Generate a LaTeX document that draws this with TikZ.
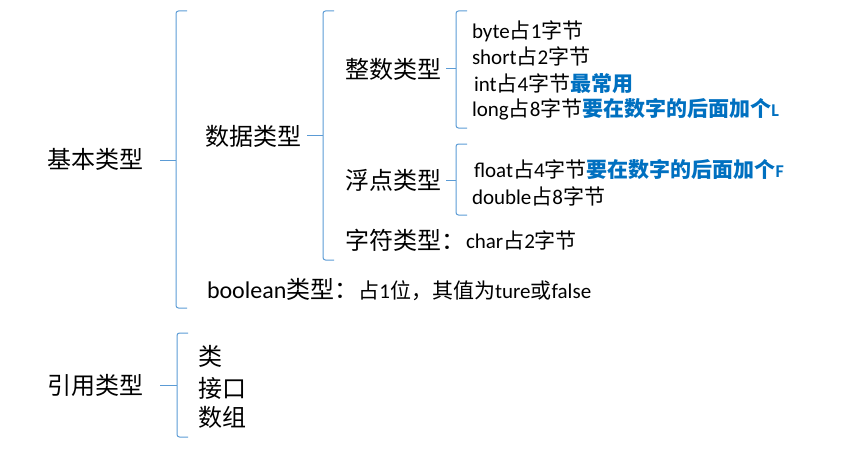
\documentclass[tikz,border=0pt]{standalone}
\usepackage{fontspec}
\setmainfont{Carlito}
\newfontfamily\cjk{Noto Sans CJK SC}
\definecolor{bracecol}{HTML}{5B9BD5}
\definecolor{hl}{HTML}{0070C0}
\newcommand\bigf{\fontsize{24}{28}\selectfont}
\newcommand\smf{\fontsize{21}{25}\selectfont}
\newcommand\hi[1]{{\color{hl}\bfseries\cjk #1}}
\newcommand\hiL[1]{{\color{hl}\bfseries\fontsize{18}{20}\selectfont #1}}
\begin{document}
\begin{tikzpicture}[x=1pt,y=-1pt,
  lbl/.style={anchor=base west,inner sep=0pt,outer sep=0pt,text=black},
  bigt/.style={lbl,font=\bigf\cjk},
  smt/.style={lbl,font=\smf},
  brace/.style={draw=bracecol,line width=1pt}]
\useasboundingbox (0,0) rectangle (844,460);
% braces: #1 vertical x, #2 top, #3 mid, #4 bottom, #5 tip x
\newcommand\mybrace[6]{%
  \draw[brace,rounded corners=2.5pt] (#1+11,#2) -- (#1,#2) -- (#1,#3) -- (#1,#4) -- (#1+11,#4);
  \coordinate (#6) at (#5,#3);
  \draw[brace] (#6) -- (#1,#3);}
\mybrace{176}{11}{160}{308}{160}{b1}
\mybrace{323}{11}{135}{260}{307}{b2}
\mybrace{456}{11}{69}{128}{446}{b3}
\mybrace{456}{144}{180}{215}{446}{b4}
\mybrace{177}{333}{385}{437}{160}{b5}
% labels
\node[bigt] (jb) at (47,168) {基本类型};
\node[bigt] (sj) at (205,145) {数据类型};
\node[bigt] (zs) at (345,78) {整数类型};
\node[bigt] (fd) at (345,189) {浮点类型};
\node[bigt] (zf) at (345,249) {字符类型：};
\node[smt] (ch) at (466,248) {char{\cjk 占}2{\cjk 字节}};
\node[lbl] (bo) at (207,298) {{\bigf boolean{\cjk 类型：}}{\smf\cjk 占\textrm{1}位，其值为\textrm{ture}或\textrm{false}}};
\node[smt] (by) at (472,39) {byte{\cjk 占}1{\cjk 字节}};
\node[smt] (sh) at (472,65) {short{\cjk 占}2{\cjk 字节}};
\node[smt] (in) at (474,92) {int{\cjk 占}4{\cjk 字节}\hi{最常用}};
\node[smt] (lo) at (472,117) {long{\cjk 占}8{\cjk 字节}\hi{要在数字的后面加个}\hiL{L}};
\node[smt] (fl) at (474,177) {float{\cjk 占}4{\cjk 字节}\hi{要在数字的后面加个}\hiL{F}};
\node[smt] (db) at (472,204) {double{\cjk 占}8{\cjk 字节}};
\node[bigt] (yy) at (47,394) {引用类型};
\node[bigt] (le) at (198,365) {类};
\node[bigt] (jk) at (198,397) {接口};
\node[bigt] (sz) at (198,426) {数组};
\end{tikzpicture}
\end{document}
